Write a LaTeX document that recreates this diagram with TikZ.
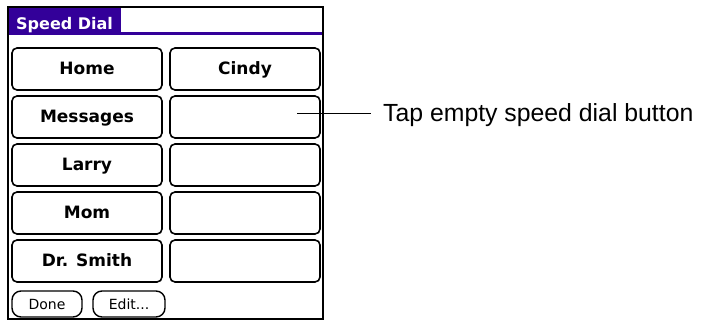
\documentclass[tikz,border=0pt]{standalone}
\usepackage{fontspec}
\setmainfont{Liberation Sans}
\newfontfamily\palmfont{DejaVu Sans}
\definecolor{palmpurple}{RGB}{51,0,153}

\begin{document}
\begin{tikzpicture}[x=1pt,y=-1pt,
  dialbtn/.style={draw,line width=1.6pt,rounded corners=5pt,minimum width=150pt,minimum height=42pt,
    inner sep=0pt,text height=11.5pt,text depth=0pt,font=\palmfont\bfseries\fontsize{17}{19}\selectfont},
  cmdbtn/.style={draw,line width=1.4pt,rounded corners=9pt,minimum height=26pt,
    inner sep=0pt,text height=10pt,text depth=0pt,font=\palmfont\fontsize{14}{16}\selectfont}]
\useasboundingbox (0,0) rectangle (706,320);
\draw[line width=2pt] (8,7) rectangle (323,319);
\fill[palmpurple] (9,8) rectangle (121,34);
\fill[palmpurple] (9,32) rectangle (322,35);
\node[anchor=base west,inner sep=0pt,text=white,font=\palmfont\bfseries\fontsize{16}{18}\selectfont] (title) at (16,30) {Speed Dial};
\foreach \lname/\rname [count=\i] in {Home/Cindy,Messages/{},Larry/{},Mom/{},Dr. Smith/{}} {
  \node[dialbtn] (left\i) at (87,21+48*\i) {\lname};
  \node[dialbtn] (right\i) at (245,21+48*\i) {\rname};
}
\node[cmdbtn,minimum width=70pt] (done) at (47,304) {Done};
\node[cmdbtn,minimum width=72pt] (edit) at (129,304) {Edit...};
\coordinate (tip) at (297,114);
\node[anchor=west,inner sep=0pt,font=\fontsize{24.8}{28}\selectfont] (tap) at (383,115) {Tap empty speed dial button};
\draw[line width=1pt] (tip) -- ([xshift=-12pt]tip -| tap.west);
\end{tikzpicture}
\end{document}
